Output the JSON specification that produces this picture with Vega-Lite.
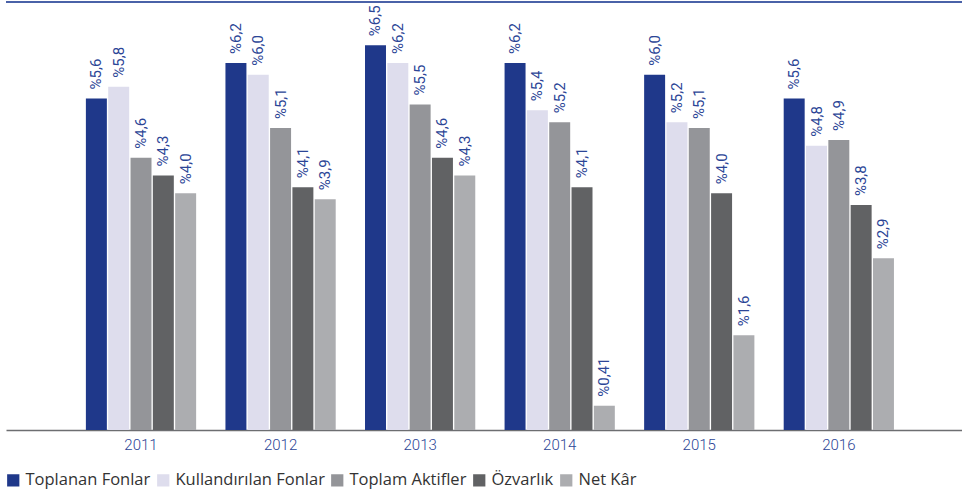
{
  "$schema": "https://vega.github.io/schema/vega-lite/v6.json",
  "autosize": {"type": "none"},
  "width": 956,
  "height": 428,
  "padding": {"left": 6, "top": 2, "right": 0, "bottom": 67},
  "background": "white",
  "config": {"view": {"stroke": null}, "font": "Open Sans"},
  "data": {
    "values": [
      {"year": "2011", "series": "Toplanan Fonlar", "value": 5.6, "label": "%5,6"},
      {"year": "2011", "series": "Kullandırılan Fonlar", "value": 5.8, "label": "%5,8"},
      {"year": "2011", "series": "Toplam Aktifler", "value": 4.6, "label": "%4,6"},
      {"year": "2011", "series": "Özvarlık", "value": 4.3, "label": "%4,3"},
      {"year": "2011", "series": "Net Kâr", "value": 4.0, "label": "%4,0"},
      {"year": "2012", "series": "Toplanan Fonlar", "value": 6.2, "label": "%6,2"},
      {"year": "2012", "series": "Kullandırılan Fonlar", "value": 6.0, "label": "%6,0"},
      {"year": "2012", "series": "Toplam Aktifler", "value": 5.1, "label": "%5,1"},
      {"year": "2012", "series": "Özvarlık", "value": 4.1, "label": "%4,1"},
      {"year": "2012", "series": "Net Kâr", "value": 3.9, "label": "%3,9"},
      {"year": "2013", "series": "Toplanan Fonlar", "value": 6.5, "label": "%6,5"},
      {"year": "2013", "series": "Kullandırılan Fonlar", "value": 6.2, "label": "%6,2"},
      {"year": "2013", "series": "Toplam Aktifler", "value": 5.5, "label": "%5,5"},
      {"year": "2013", "series": "Özvarlık", "value": 4.6, "label": "%4,6"},
      {"year": "2013", "series": "Net Kâr", "value": 4.3, "label": "%4,3"},
      {"year": "2014", "series": "Toplanan Fonlar", "value": 6.2, "label": "%6,2"},
      {"year": "2014", "series": "Kullandırılan Fonlar", "value": 5.4, "label": "%5,4"},
      {"year": "2014", "series": "Toplam Aktifler", "value": 5.2, "label": "%5,2"},
      {"year": "2014", "series": "Özvarlık", "value": 4.1, "label": "%4,1"},
      {"year": "2014", "series": "Net Kâr", "value": 0.41, "label": "%0,41"},
      {"year": "2015", "series": "Toplanan Fonlar", "value": 6.0, "label": "%6,0"},
      {"year": "2015", "series": "Kullandırılan Fonlar", "value": 5.2, "label": "%5,2"},
      {"year": "2015", "series": "Toplam Aktifler", "value": 5.1, "label": "%5,1"},
      {"year": "2015", "series": "Özvarlık", "value": 4.0, "label": "%4,0"},
      {"year": "2015", "series": "Net Kâr", "value": 1.6, "label": "%1,6"},
      {"year": "2016", "series": "Toplanan Fonlar", "value": 5.6, "label": "%5,6"},
      {"year": "2016", "series": "Kullandırılan Fonlar", "value": 4.8, "label": "%4,8"},
      {"year": "2016", "series": "Toplam Aktifler", "value": 4.9, "label": "%4,9"},
      {"year": "2016", "series": "Özvarlık", "value": 3.8, "label": "%3,8"},
      {"year": "2016", "series": "Net Kâr", "value": 2.9, "label": "%2,9"}
    ]
  },
  "encoding": {
    "x": {
      "field": "year", "type": "nominal",
      "scale": {"paddingInner": 0.21, "paddingOuter": 0.53, "align": 0.54},
      "axis": {
        "title": null, "labelAngle": 0, "ticks": false, "domainColor": "#6d6e71", "domainWidth": 1.5,
        "labelColor": "#2b4596", "labelFontSize": 15, "labelPadding": 7, "labelFont": "Roboto", "labelFontWeight": 300
      }
    },
    "xOffset": {
      "field": "series", "type": "nominal",
      "sort": ["Toplanan Fonlar", "Kullandırılan Fonlar", "Toplam Aktifler", "Özvarlık", "Net Kâr"],
      "scale": {"paddingInner": 0.06, "paddingOuter": 0}
    },
    "y": {
      "field": "value", "type": "quantitative",
      "scale": {"domain": [0, 7.23], "nice": false, "zero": true},
      "axis": null
    }
  },
  "layer": [
    {
      "mark": {"type": "bar"},
      "encoding": {
        "color": {
          "field": "series", "type": "nominal",
          "sort": ["Toplanan Fonlar", "Kullandırılan Fonlar", "Toplam Aktifler", "Özvarlık", "Net Kâr"],
          "scale": {
            "domain": ["Toplanan Fonlar", "Kullandırılan Fonlar", "Toplam Aktifler", "Özvarlık", "Net Kâr"],
            "range": ["#1f388a", "#dedded", "#949599", "#616264", "#acadb0"]
          },
          "legend": {
            "title": null, "orient": "none", "legendX": -1, "legendY": 470, "direction": "horizontal",
            "symbolType": "square", "symbolSize": 150, "symbolStrokeWidth": 0,
            "labelFontSize": 16.5, "labelColor": "#333333", "labelFont": "Open Sans",
            "columnPadding": 4, "labelOffset": 4
          }
        }
      }
    },
    {
      "mark": {"type": "text", "angle": 270, "align": "left", "baseline": "middle", "dx": 9, "fontSize": 15, "color": "#2b4596", "font": "Roboto", "fontWeight": 400},
      "encoding": {"text": {"field": "label"}}
    },
    {
      "data": {"values": [{"top": 7.23}]},
      "mark": {"type": "rule", "color": "#4a62a8", "strokeWidth": 2},
      "encoding": {"y": {"field": "top", "type": "quantitative"}, "x": null, "xOffset": null}
    }
  ]
}
